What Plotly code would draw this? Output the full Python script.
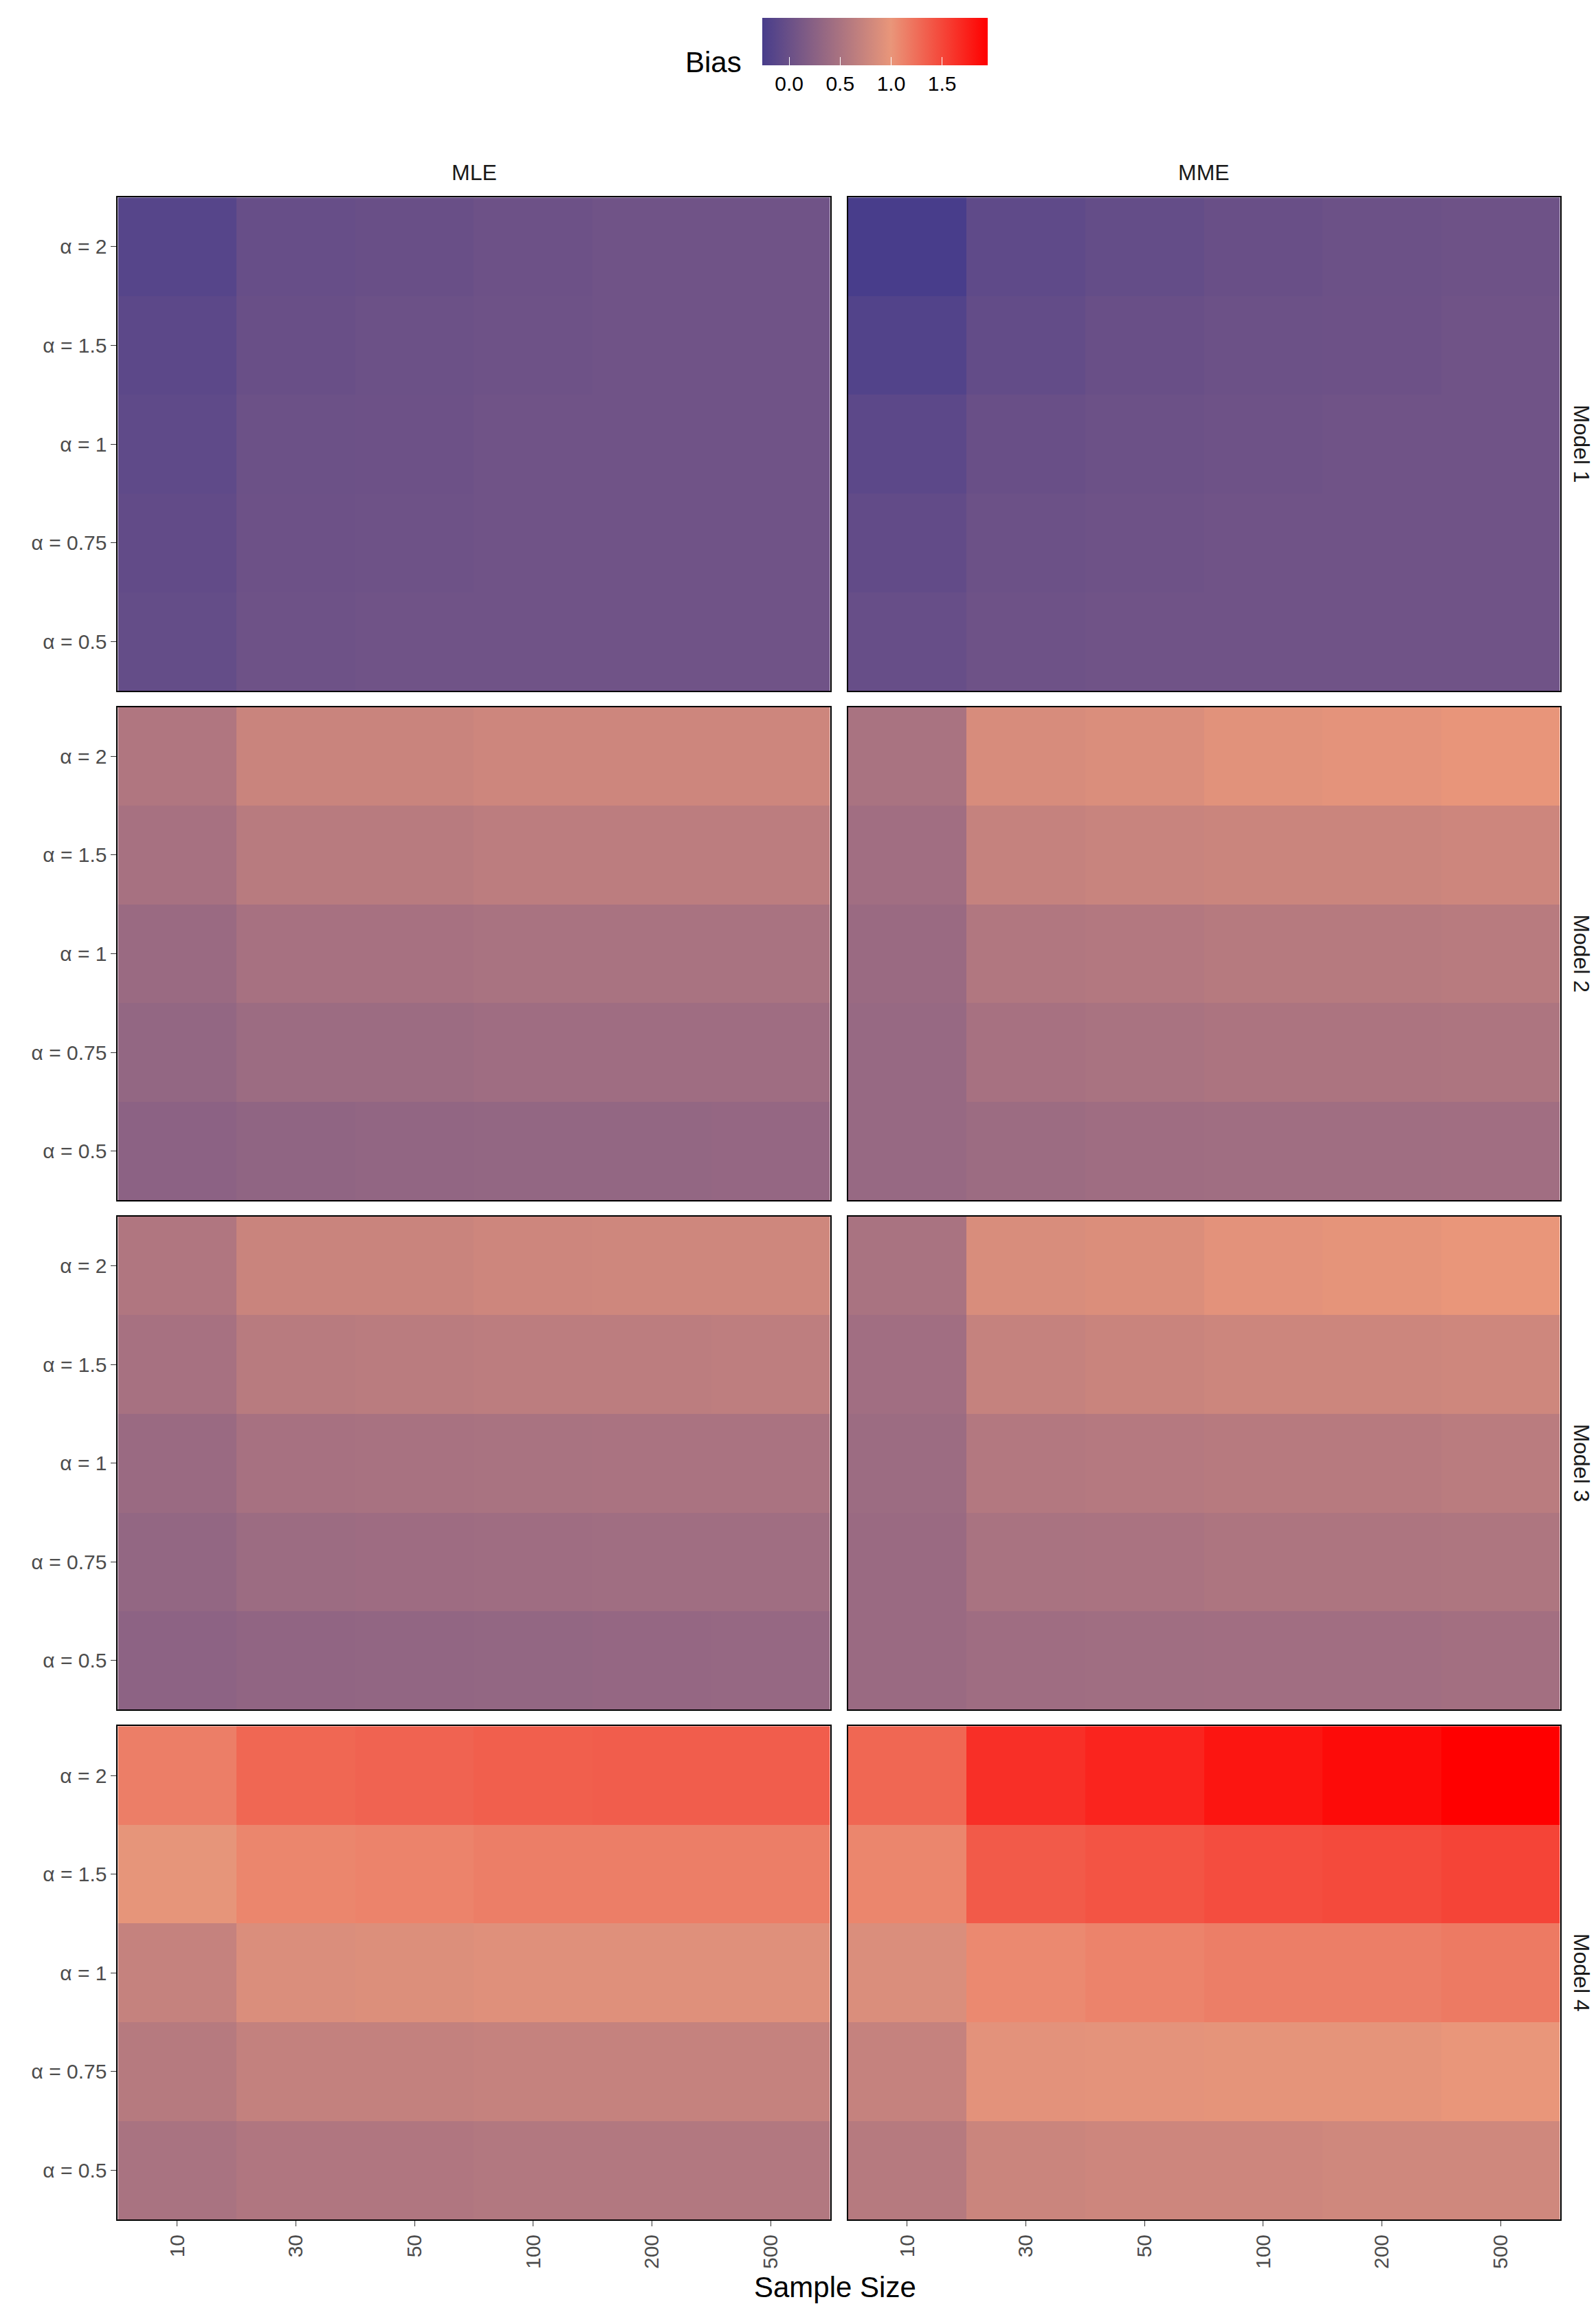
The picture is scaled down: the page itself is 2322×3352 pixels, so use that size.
import plotly.graph_objects as go

sample_sizes = ["10", "30", "50", "100", "200", "500"]
alphas = ["α = 0.5", "α = 0.75", "α = 1", "α = 1.5", "α = 2"]
methods = ["MLE", "MME"]
models = ["Model 1", "Model 2", "Model 3", "Model 4"]

# rows: alpha 0.5, 0.75, 1, 1.5, 2 ; cols: sample sizes
m1_mle = [[-0.04, 0.04, 0.05, 0.05, 0.05, 0.05],
          [-0.06, 0.03, 0.04, 0.05, 0.05, 0.05],
          [-0.08, 0.02, 0.03, 0.05, 0.05, 0.05],
          [-0.10, 0.00, 0.02, 0.04, 0.05, 0.05],
          [-0.15, -0.02, 0.00, 0.03, 0.05, 0.05]]
m1_mme = [[-0.02, 0.04, 0.05, 0.05, 0.05, 0.05],
          [-0.06, 0.02, 0.04, 0.05, 0.05, 0.05],
          [-0.10, 0.00, 0.02, 0.04, 0.05, 0.05],
          [-0.18, -0.05, 0.00, 0.02, 0.03, 0.05],
          [-0.26, -0.08, -0.04, 0.00, 0.02, 0.04]]
m2_mle = [[0.27, 0.30, 0.32, 0.33, 0.33, 0.34],
          [0.33, 0.40, 0.40, 0.42, 0.42, 0.42],
          [0.38, 0.48, 0.48, 0.50, 0.50, 0.50],
          [0.48, 0.62, 0.62, 0.65, 0.65, 0.65],
          [0.55, 0.75, 0.75, 0.78, 0.78, 0.78]]
m2_mme = [[0.36, 0.40, 0.42, 0.43, 0.43, 0.44],
          [0.36, 0.48, 0.50, 0.52, 0.52, 0.53],
          [0.38, 0.56, 0.58, 0.60, 0.60, 0.62],
          [0.44, 0.72, 0.74, 0.76, 0.76, 0.78],
          [0.50, 0.86, 0.88, 0.94, 0.96, 0.99]]
m3_mle = [[0.28, 0.31, 0.32, 0.33, 0.34, 0.35],
          [0.33, 0.40, 0.41, 0.42, 0.43, 0.43],
          [0.38, 0.48, 0.49, 0.50, 0.51, 0.51],
          [0.48, 0.62, 0.63, 0.65, 0.65, 0.66],
          [0.55, 0.75, 0.75, 0.78, 0.79, 0.79]]
m3_mme = [[0.38, 0.42, 0.43, 0.44, 0.44, 0.45],
          [0.38, 0.50, 0.51, 0.53, 0.53, 0.54],
          [0.40, 0.58, 0.59, 0.61, 0.61, 0.63],
          [0.44, 0.72, 0.75, 0.77, 0.77, 0.79],
          [0.50, 0.87, 0.89, 0.95, 0.97, 1.00]]
m4_mle = [[0.50, 0.55, 0.55, 0.57, 0.57, 0.57],
          [0.60, 0.70, 0.70, 0.72, 0.72, 0.72],
          [0.72, 0.88, 0.90, 0.92, 0.92, 0.92],
          [0.98, 1.10, 1.12, 1.15, 1.15, 1.15],
          [1.15, 1.30, 1.32, 1.35, 1.36, 1.36]]
m4_mme = [[0.60, 0.76, 0.78, 0.78, 0.80, 0.80],
          [0.72, 0.95, 0.96, 0.97, 0.97, 1.00],
          [0.88, 1.08, 1.12, 1.15, 1.15, 1.18],
          [1.10, 1.38, 1.42, 1.46, 1.48, 1.52],
          [1.30, 1.65, 1.72, 1.82, 1.88, 1.95]]

data = [[m1_mle, m1_mme], [m2_mle, m2_mme], [m3_mle, m3_mme], [m4_mle, m4_mme]]

zmin, zmax = -0.26, 1.95
mid = (1.0 - zmin) / (zmax - zmin)
cscale = [[0, "#483D8B"], [mid, "#E9967A"], [1, "#FF0000"]]

xd = [[0.0704, 0.5167], [0.5278, 0.974]]
yd = [[0.7026, 0.9167], [0.4814, 0.6955], [0.2603, 0.4744], [0.0391, 0.2532]]

FONT = "Liberation Sans"
fig = go.Figure()
layout = {}
k = 0
for r in range(4):
    for c in range(2):
        k += 1
        xa = "x" if k == 1 else f"x{k}"
        ya = "y" if k == 1 else f"y{k}"
        fig.add_trace(go.Heatmap(
            z=data[r][c], x=sample_sizes, y=alphas, xaxis=xa, yaxis=ya,
            colorscale=cscale, zmin=zmin, zmax=zmax, showscale=(k == 1), xgap=0, ygap=0,
            colorbar=dict(orientation="h", x=0.545, xanchor="center", y=0.9975, yanchor="top",
                          len=348, lenmode="pixels", thickness=69, outlinewidth=0,
                          tickvals=[0, 0.5, 1.0, 1.5], ticktext=["0.0", "0.5", "1.0", "1.5"],
                          tickangle=0, ticks="inside", ticklen=12, tickcolor="white",
                          tickfont=dict(size=30, family=FONT, color="black")),
        ))
        layout[f"xaxis{'' if k == 1 else k}"] = dict(
            domain=xd[c], anchor=ya, type="category", showticklabels=(r == 3),
            tickangle=-90, ticks="outside" if r == 3 else "", ticklen=8, tickcolor="#333",
            tickfont=dict(size=30, family=FONT, color="#4d4d4d"),
            showline=True, mirror=True, linecolor="black", linewidth=2, showgrid=False, zeroline=False)
        layout[f"yaxis{'' if k == 1 else k}"] = dict(
            domain=yd[r], anchor=xa, type="category", showticklabels=(c == 0),
            ticks="outside" if c == 0 else "", ticklen=8, tickcolor="#333",
            tickfont=dict(size=30, family=FONT, color="#4d4d4d"),
            showline=True, mirror=True, linecolor="black", linewidth=2, showgrid=False, zeroline=False)

ann = []
for c, m in enumerate(methods):
    ann.append(dict(text=m, x=sum(xd[c]) / 2, y=0.9215, xref="paper", yref="paper",
                    xanchor="center", yanchor="bottom", showarrow=False,
                    font=dict(size=32, family=FONT, color="#1a1a1a")))
for r, m in enumerate(models):
    ann.append(dict(text=m, x=0.979, y=sum(yd[r]) / 2, xref="paper", yref="paper",
                    xanchor="left", yanchor="middle", showarrow=False, textangle=90,
                    font=dict(size=32, family=FONT, color="#1a1a1a")))
ann.append(dict(text="Sample Size", x=0.52, y=0.002, xref="paper", yref="paper",
                xanchor="center", yanchor="bottom", showarrow=False,
                font=dict(size=42, family=FONT, color="black")))
ann.append(dict(text="Bias", x=0.462, y=0.9755, xref="paper", yref="paper",
                xanchor="right", yanchor="middle", showarrow=False,
                font=dict(size=42, family=FONT, color="black")))

fig.update_layout(width=2322, height=3352, margin=dict(l=0, r=0, t=0, b=0),
                  paper_bgcolor="white", plot_bgcolor="white", annotations=ann,
                  font=dict(family=FONT), **layout)
fig.write_html("out.html")
